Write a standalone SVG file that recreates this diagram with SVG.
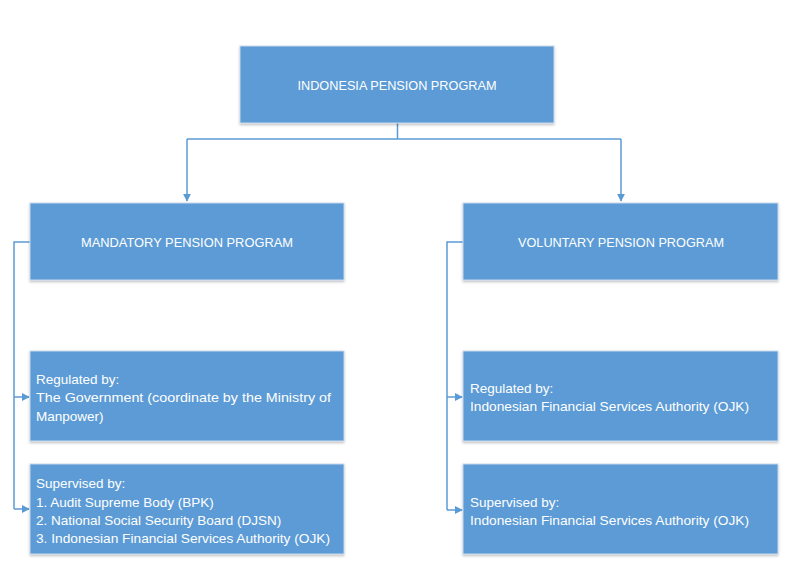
<svg xmlns="http://www.w3.org/2000/svg" width="785" height="576" viewBox="0 0 785 576">
<defs>
<style>
.box{fill:#5B9BD5;stroke:#C9D9EC;stroke-width:1;filter:url(#sh)}
.t{font-family:"Liberation Sans",Arial,sans-serif;font-size:13.5px;fill:#FFFFFF}
.c{text-anchor:middle}
.ln{fill:none;stroke:#5B9BD5;stroke-width:1.5}
</style>
<filter id="sh" x="-5%" y="-5%" width="110%" height="115%">
<feDropShadow dx="0" dy="1.5" stdDeviation="1.2" flood-color="#000" flood-opacity="0.25"/>
</filter>
<marker id="ah" viewBox="0 0 10 10" refX="9" refY="5" markerWidth="8" markerHeight="8" markerUnits="userSpaceOnUse" orient="auto">
<path d="M0,0 L10,5 L0,10 z" fill="#5B9BD5"/>
</marker>
</defs>
<rect width="785" height="576" fill="#FFFFFF"/>
<g id="connectors">
<path class="ln" d="M397.5,123 V139 M187,139 H621"/>
<path class="ln" d="M187,139 V201" marker-end="url(#ah)"/>
<path class="ln" d="M621,139 V201" marker-end="url(#ah)"/>
<path class="ln" d="M30,242 H14 V509"/>
<path class="ln" d="M14,397 H29" marker-end="url(#ah)"/>
<path class="ln" d="M14,509 H29" marker-end="url(#ah)"/>
<path class="ln" d="M463,242 H447 V510"/>
<path class="ln" d="M447,397 H462" marker-end="url(#ah)"/>
<path class="ln" d="M447,510 H462" marker-end="url(#ah)"/>
</g>
<g id="root">
<rect class="box" x="240" y="46" width="314" height="77"/>
<text class="t c" x="397" y="90" textLength="199" lengthAdjust="spacingAndGlyphs">INDONESIA PENSION PROGRAM</text>
</g>
<g id="mandatory">
<rect class="box" x="30" y="203" width="314" height="77"/>
<text class="t c" x="187" y="247" textLength="212" lengthAdjust="spacingAndGlyphs">MANDATORY PENSION PROGRAM</text>
</g>
<g id="voluntary">
<rect class="box" x="463" y="203" width="315" height="77"/>
<text class="t c" x="621" y="247" textLength="206" lengthAdjust="spacingAndGlyphs">VOLUNTARY PENSION PROGRAM</text>
</g>
<g id="mand-reg">
<rect class="box" x="30" y="351" width="314" height="90"/>
<text class="t" x="36" y="384">Regulated by:</text>
<text class="t" x="36" y="402" textLength="295" lengthAdjust="spacingAndGlyphs">The Government (coordinate by the Ministry of</text>
<text class="t" x="36" y="421">Manpower)</text>
</g>
<g id="mand-sup">
<rect class="box" x="30" y="464" width="314" height="90"/>
<text class="t" x="36" y="488">Supervised by:</text>
<text class="t" x="36" y="507">1. Audit Supreme Body (BPK)</text>
<text class="t" x="36" y="525">2. National Social Security Board (DJSN)</text>
<text class="t" x="36" y="543" textLength="294" lengthAdjust="spacingAndGlyphs">3. Indonesian Financial Services Authority (OJK)</text>
</g>
<g id="vol-reg">
<rect class="box" x="463" y="351" width="315" height="90"/>
<text class="t" x="470" y="393">Regulated by:</text>
<text class="t" x="470" y="411" textLength="279" lengthAdjust="spacingAndGlyphs">Indonesian Financial Services Authority (OJK)</text>
</g>
<g id="vol-sup">
<rect class="box" x="463" y="464" width="315" height="90"/>
<text class="t" x="470" y="507">Supervised by:</text>
<text class="t" x="470" y="525" textLength="279" lengthAdjust="spacingAndGlyphs">Indonesian Financial Services Authority (OJK)</text>
</g>
</svg>
